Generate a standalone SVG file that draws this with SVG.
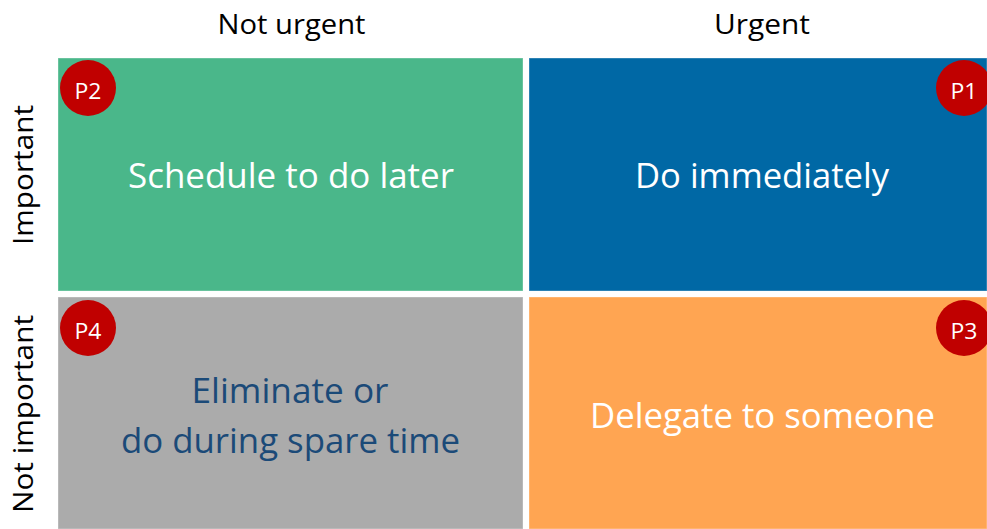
<svg xmlns="http://www.w3.org/2000/svg" width="987" height="529" viewBox="0 0 987 529">
<style>
text{font-family:"Open Sans","Liberation Sans",sans-serif;text-anchor:middle}
.hdr{font-size:28px;fill:#000}
.lbl{font-size:35px;fill:#fff}
.dark{fill:#1B4A78}
.q{stroke:#ffffff;stroke-opacity:0.35;stroke-width:1}
.badge circle{fill:#C00000}
.badge text{font-size:22px;fill:#fff}
</style>
<rect width="987" height="529" fill="#fff"/>
<g id="headers">
<text class="hdr" x="291.5" y="34" textLength="148" lengthAdjust="spacingAndGlyphs">Not urgent</text>
<text class="hdr" x="762" y="34" textLength="96" lengthAdjust="spacingAndGlyphs">Urgent</text>
<text class="hdr" transform="translate(33,175) rotate(-90)" x="0" y="0" textLength="140" lengthAdjust="spacingAndGlyphs">Important</text>
<text class="hdr" transform="translate(33,414) rotate(-90)" x="0" y="0" textLength="198" lengthAdjust="spacingAndGlyphs">Not important</text>
</g>
<g id="q-p2">
<rect class="q" x="58" y="58" width="465" height="233" fill="#4AB78A"/>
<text class="lbl" x="291" y="188" textLength="326" lengthAdjust="spacingAndGlyphs">Schedule to do later</text>
</g>
<g id="q-p1">
<rect class="q" x="529" y="58" width="458" height="233" fill="#0068A5"/>
<text class="lbl" x="762" y="188" textLength="254" lengthAdjust="spacingAndGlyphs">Do immediately</text>
</g>
<g id="q-p4">
<rect class="q" x="58" y="297" width="465" height="232" fill="#ABABAB"/>
<text class="lbl dark" x="290" y="403" textLength="197" lengthAdjust="spacingAndGlyphs">Eliminate or</text>
<text class="lbl dark" x="290.5" y="453" textLength="339" lengthAdjust="spacingAndGlyphs">do during spare time</text>
</g>
<g id="q-p3">
<rect class="q" x="529" y="297" width="458" height="232" fill="#FFA552"/>
<text class="lbl" x="762.5" y="428" textLength="345" lengthAdjust="spacingAndGlyphs">Delegate to someone</text>
</g>
<g id="badge-p2" class="badge"><circle cx="88" cy="88" r="28"/><text x="88" y="98.5" textLength="27" lengthAdjust="spacingAndGlyphs">P2</text></g>
<g id="badge-p1" class="badge"><circle cx="964" cy="88" r="28"/><text x="964" y="98.5" textLength="27" lengthAdjust="spacingAndGlyphs">P1</text></g>
<g id="badge-p4" class="badge"><circle cx="88" cy="328" r="28"/><text x="88" y="338.5" textLength="27" lengthAdjust="spacingAndGlyphs">P4</text></g>
<g id="badge-p3" class="badge"><circle cx="964" cy="328" r="28"/><text x="964" y="338.5" textLength="27" lengthAdjust="spacingAndGlyphs">P3</text></g>
<g id="connectors"/>
</svg>
